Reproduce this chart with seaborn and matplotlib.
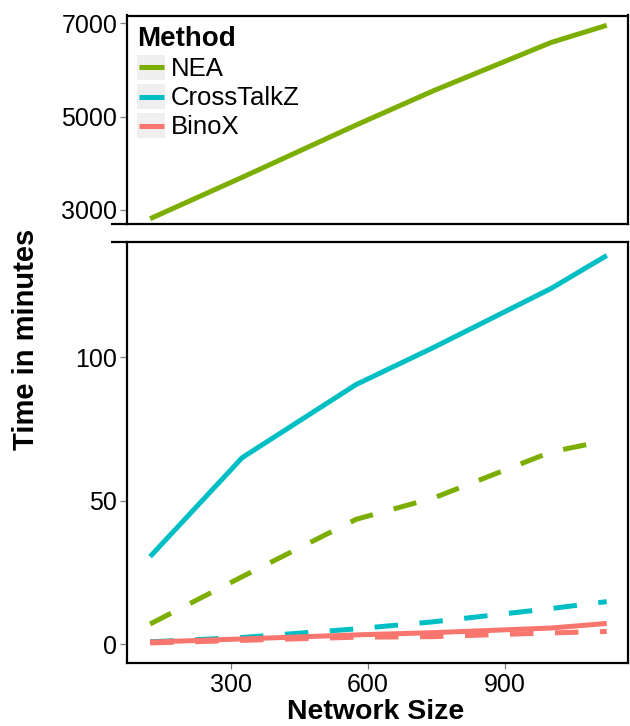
import numpy as np
import pandas as pd
import seaborn as sns
import matplotlib
matplotlib.use("Agg")
import matplotlib.pyplot as plt
from matplotlib.lines import Line2D
from matplotlib.patches import Rectangle
from matplotlib.legend_handler import HandlerBase

# ---------------- data ----------------
network_size = [122, 324, 574, 745, 1002, 1124]
methods = ["NEA", "CrossTalkZ", "BinoX"]
colors = {"NEA": "#7CAE00", "CrossTalkZ": "#00BFC4", "BinoX": "#F8766D"}

nea_solid = [2813, 3700, 4820, 5560, 6590, 6957]
nea_dashed = [7.0, 23.5, 43.5, 51.0, 67.0, 71.0]
ctz_solid = [30.5, 65.0, 90.5, 103.5, 124.0, 135.5]
ctz_dashed = [0.8, 2.3, 5.3, 7.8, 12.4, 14.8]
binox_solid = [0.7, 1.8, 3.2, 4.0, 5.6, 7.2]
binox_dashed = [0.4, 1.3, 2.4, 2.6, 3.9, 4.4]

top_ticks = [3000, 5000, 7000]
bottom_ticks = [0, 50, 100]
x_ticks = [300, 600, 900]

# ---------------- frames ----------------
top_df = pd.DataFrame({"size": network_size, "time": nea_solid,
                       "Method": "NEA", "Variant": "solid"})
rows = []
for m, v, vals in [("NEA", "dashed", nea_dashed),
                   ("CrossTalkZ", "solid", ctz_solid),
                   ("CrossTalkZ", "dashed", ctz_dashed),
                   ("BinoX", "dashed", binox_dashed),
                   ("BinoX", "solid", binox_solid)]:
    for s, t in zip(network_size, vals):
        rows.append({"size": s, "time": t, "Method": m, "Variant": v})
bot_df = pd.DataFrame(rows)

# ---------------- style ----------------
sns.set_style("white")
plt.rcParams["font.family"] = ["Liberation Sans", "DejaVu Sans"]
plt.rcParams["text.color"] = "black"
plt.rcParams["axes.labelcolor"] = "black"
plt.rcParams["lines.solid_capstyle"] = "butt"
plt.rcParams["lines.dash_capstyle"] = "butt"

W, H = 630, 726
fig = plt.figure(figsize=(W / 100, H / 100), dpi=100)
L, R = 127, 628
ax1 = fig.add_axes([L / W, 1 - 224 / H, (R - L) / W, (224 - 15.5) / H])
ax2 = fig.add_axes([L / W, 1 - 663.3 / H, (R - L) / W, (663.3 - 241.7) / H])

LW = 3.6
dash_map = {"solid": "", "dashed": (4.7, 4.3)}

sns.lineplot(data=top_df, x="size", y="time", hue="Method", palette=colors,
             style="Variant", dashes=dash_map, lw=LW, ax=ax1, legend=False,
             estimator=None, sort=False)
sns.lineplot(data=bot_df, x="size", y="time", hue="Method", palette=colors,
             style="Variant", dashes=dash_map, lw=LW, ax=ax2, legend=False,
             estimator=None, sort=False, units="Variant")

xlim = (71.3, 1170.6)
for ax in (ax1, ax2):
    ax.set_xlim(*xlim)
    ax.set_xlabel("")
    ax.set_ylabel("")
    for sp in ax.spines.values():
        sp.set_visible(True)
        sp.set_color("black")
        sp.set_linewidth(1.6)
    ax.tick_params(axis="y", which="both", left=True, length=5, width=0.9,
                   color="#7f7f7f", labelsize=18, labelcolor="black", pad=2)

ax1.set_ylim(2700, 7167)
ax1.set_yticks(top_ticks)
ax1.set_yticklabels([str(t) for t in top_ticks])
ax1.set_xticks([])

ax2.set_ylim(-6.7, 140.3)
ax2.set_yticks(bottom_ticks)
ax2.set_yticklabels([str(t) for t in bottom_ticks])
ax2.set_xticks(x_ticks)
ax2.set_xticklabels([str(t) for t in x_ticks])
ax2.tick_params(axis="x", which="both", bottom=True, length=4, width=0.9,
                color="#7f7f7f", labelsize=18, labelcolor="black", pad=3)

# break marks extending left of the y axis
ext = 16 / (R - L)
ax1.plot([-ext, 0], [0, 0], transform=ax1.transAxes, clip_on=False,
         color="black", lw=1.6, solid_capstyle="butt")
ax2.plot([-ext, 0], [1, 1], transform=ax2.transAxes, clip_on=False,
         color="black", lw=1.6, solid_capstyle="butt")

# axis titles
fig.text(26 / W, 1 - 339 / H, "Time in minutes", rotation=90, fontsize=21,
         fontweight="bold", color="black", ha="center", va="center")
fig.text(376 / W, 1 - 712 / H, "Network Size", fontsize=20.5,
         fontweight="bold", color="black", ha="center", va="center")


# legend with grey key boxes
class KeyHandler(HandlerBase):
    def create_artists(self, legend, orig_handle, xdescent, ydescent,
                       width, height, fontsize, trans):
        rect = Rectangle((-xdescent, -ydescent), width, height,
                         facecolor="#EFEFEF", edgecolor="none",
                         transform=trans)
        y = -ydescent + height / 2
        line = Line2D([-xdescent + 0.06 * width, -xdescent + 0.94 * width],
                      [y, y], color=orig_handle.get_color(), lw=LW,
                      solid_capstyle="butt", transform=trans)
        return [rect, line]


handles = [Line2D([], [], color=colors[m], lw=LW) for m in methods]
leg = ax1.legend(handles, methods, title="Method", loc="upper left",
                 bbox_to_anchor=(137 / W, 1 - 26 / H),
                 bbox_transform=fig.transFigure, frameon=False,
                 handlelength=1.1, handleheight=1.1, handletextpad=0.22,
                 labelspacing=0.12, borderpad=0, borderaxespad=0,
                 fontsize=18.5, alignment="left",
                 title_fontproperties={"weight": "bold", "size": 20},
                 handler_map={Line2D: KeyHandler()})
leg.get_title().set_color("black")
for t in leg.get_texts():
    t.set_color("black")

fig.savefig("out.png", dpi=100)
